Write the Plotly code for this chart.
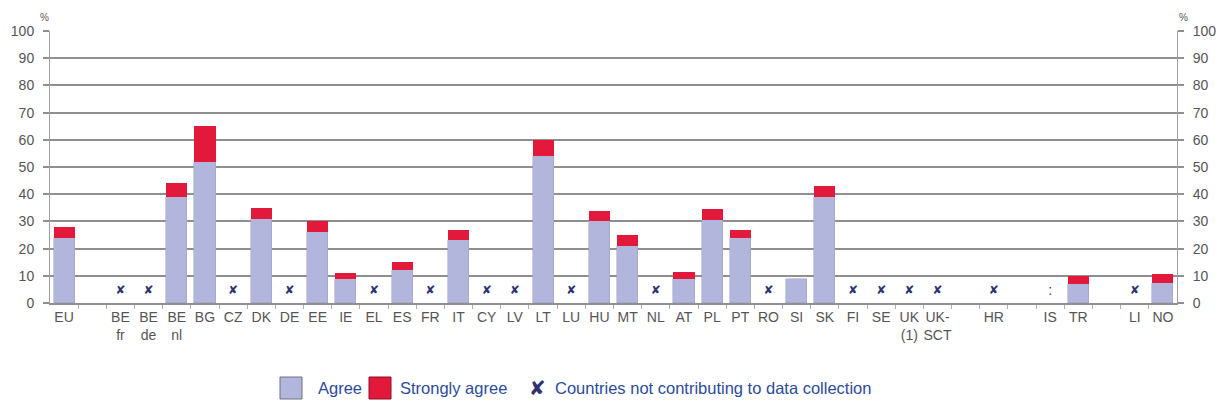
import plotly.graph_objects as go

# category slots (empty strings are spacer slots in the original layout)
LABELS = ["EU", "", "BE<br>fr", "BE<br>de", "BE<br>nl", "BG", "CZ", "DK", "DE", "EE", "IE", "EL", "ES", "FR",
          "IT", "CY", "LV", "LT", "LU", "HU", "MT", "NL", "AT", "PL", "PT", "RO", "SI", "SK", "FI", "SE",
          "UK<br>(1)", "UK-<br>SCT", "", "HR", "", "IS", "TR", "", "LI", "NO"]
AGREE = [24, None, None, None, 39, 52, None, 31, None, 26, 9, None, 12, None,
         23, None, None, 54, None, 30, 21, None, 9, 30.5, 24, None, 9, 39, None, None,
         None, None, None, None, None, None, 7, None, None, 7.5]
STRONGLY = [4, None, None, None, 5, 13, None, 4, None, 4, 2, None, 3, None,
            4, None, None, 6, None, 4, 4, None, 2.5, 4, 3, None, 0, 4, None, None,
            None, None, None, None, None, None, 3, None, None, 3]
NOT_CONTRIBUTING = ["BE<br>fr", "BE<br>de", "CZ", "DE", "EL", "FR", "CY", "LV", "LU", "NL", "RO",
                    "FI", "SE", "UK<br>(1)", "UK-<br>SCT", "HR", "LI"]
NOT_AVAILABLE = ["IS"]
MARK_LEVEL = 4.4
Y_TICKS = list(range(0, 101, 10))

# the page body adds an 8px offset, so the figure is 8px smaller and shifted up/left
PAGE_OFFSET = 8
W, H = 1225 - PAGE_OFFSET, 416 - PAGE_OFFSET
L, R, T, B = 50 - PAGE_OFFSET, 48, 31 - PAGE_OFFSET, 113
AGREE_COLOR = "#b3b6dc"
STRONG_COLOR = "#e3193c"
MARK_COLOR = "#2f3270"
GRID = "#8f8f8f"
TEXT = "#555555"
LEGEND_TEXT = "#2c4b9c"

x = list(range(len(LABELS)))

fig = go.Figure()
fig.add_trace(go.Bar(x=x, y=AGREE, marker=dict(color=AGREE_COLOR, line=dict(color="#9a9cc0", width=0.5)),
                     width=0.75, name="Agree", showlegend=False))
fig.add_trace(go.Bar(x=x, y=STRONGLY, marker=dict(color=STRONG_COLOR, line=dict(width=0)),
                     width=0.75, name="Strongly agree", showlegend=False))

mx = [LABELS.index(c) for c in NOT_CONTRIBUTING]
fig.add_trace(go.Scatter(x=mx, y=[MARK_LEVEL] * len(mx), mode="text", text=["✘"] * len(mx),
                         textfont=dict(family="DejaVu Sans", size=12, color=MARK_COLOR),
                         showlegend=False, hoverinfo="skip", yaxis="y2"))
ix = [LABELS.index(c) for c in NOT_AVAILABLE]
fig.add_trace(go.Scatter(x=ix, y=[MARK_LEVEL] * len(ix), mode="text", text=[":"] * len(ix),
                         textfont=dict(family="Liberation Sans", size=14, color=MARK_COLOR),
                         showlegend=False, hoverinfo="skip", yaxis="y2"))

axis_common = dict(range=[0, 100], tickvals=Y_TICKS, ticks="outside", ticklen=6, tickcolor=GRID,
                   tickwidth=1.5, showline=True, linecolor="#a0a0a0", linewidth=1, automargin=False,
                   ticklabelstandoff=6,
                   tickfont=dict(family="Liberation Sans Narrow, Liberation Sans", size=14, color=TEXT),
                   fixedrange=True)

fig.update_layout(
    width=W, height=H,
    margin=dict(l=L, r=R, t=T, b=B),
    paper_bgcolor="white", plot_bgcolor="white",
    barmode="stack", bargap=0,
    xaxis=dict(range=[-0.5, len(LABELS) - 0.5], tickvals=x, ticktext=LABELS, ticks="", automargin=False,
               tickfont=dict(family="Liberation Sans Narrow, Liberation Sans", size=14, color=TEXT),
               showline=True, linecolor=GRID, linewidth=1.5, showgrid=False, zeroline=False,
               minor=dict(tickvals=[i + 0.5 for i in x[:-1]], ticks="outside", ticklen=4,
                          tickcolor="#b0b0b0", showgrid=False),
               fixedrange=True),
    yaxis=dict(**axis_common, side="left", showgrid=True, gridcolor=GRID, gridwidth=1.5, zeroline=False),
    yaxis2=dict(**axis_common, side="right", overlaying="y", showgrid=False, zeroline=False),
    showlegend=False,
)

fig.add_annotation(x=0, y=1, xref="paper", yref="paper", xshift=-6, yshift=6, text="%",
                   showarrow=False, xanchor="center", yanchor="bottom",
                   font=dict(family="Liberation Sans", size=10, color=TEXT))
fig.add_annotation(x=1, y=1, xref="paper", yref="paper", xshift=6, yshift=6, text="%",
                   showarrow=False, xanchor="center", yanchor="bottom",
                   font=dict(family="Liberation Sans", size=10, color=TEXT))


# legend drawn by hand so the swatches match the original size (page pixel coordinates)
def px_x(p):
    return (p - PAGE_OFFSET - L) / (W - L - R)


def px_y(p):
    return (H - B - (p - PAGE_OFFSET)) / (H - T - B)


legend_font = dict(family="Liberation Sans", size=16.5, color=LEGEND_TEXT)
swatches = [(280, AGREE_COLOR, "#6f7080", "Agree", 316),
            (369, STRONG_COLOR, "#8a1020", "Strongly agree", 398)]
for left, fill, edge, label, tx in swatches:
    fig.add_shape(type="rect", xref="paper", yref="paper",
                  x0=px_x(left), x1=px_x(left + 22), y0=px_y(399), y1=px_y(377),
                  fillcolor=fill, line=dict(color=edge, width=1))
    fig.add_annotation(x=px_x(tx), y=px_y(388), xref="paper", yref="paper", text=label,
                       showarrow=False, xanchor="left", yanchor="middle", font=legend_font)
fig.add_annotation(x=px_x(527), y=px_y(388), xref="paper", yref="paper", text="✘",
                   showarrow=False, xanchor="left", yanchor="middle",
                   font=dict(family="DejaVu Sans", size=20, color=MARK_COLOR))
fig.add_annotation(x=px_x(553), y=px_y(388), xref="paper", yref="paper",
                   text="Countries not contributing to data collection",
                   showarrow=False, xanchor="left", yanchor="middle", font=legend_font)

fig.write_html("out.html")
